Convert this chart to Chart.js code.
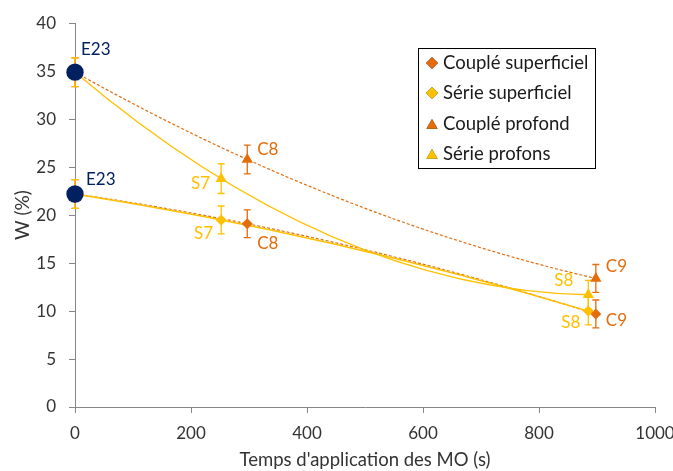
<!DOCTYPE html>
<html>
<head>
<meta charset="utf-8">
<script src="https://cdn.jsdelivr.net/npm/chart.js@4.4.1/dist/chart.umd.min.js"></script>
<style>
  html, body { margin: 0; padding: 0; background: #fff; }
  #wrap { width: 673px; height: 471px; position: relative; }
</style>
</head>
<body>
<div id="wrap"><canvas id="wChart"></canvas></div>
<script>
// Teneur en eau W (%) selon le temps d'application des MO (s)

const coupleSupTime = [0, 297, 898];
const coupleSupW = [22.2, 19.1, 9.7];
const coupleSupErr = [1.5, 1.45, 1.45];
const coupleSupNames = ["", "C8", "C9"];

const serieSupTime = [0, 252, 885];
const serieSupW = [22.2, 19.5, 10.0];
const serieSupErr = [1.5, 1.45, 1.45];
const serieSupNames = ["", "S7", "S8"];

const coupleProfTime = [0, 297, 898];
const coupleProfW = [34.9, 25.8, 13.4];
const coupleProfErr = [1.5, 1.5, 1.45];
const coupleProfNames = ["", "C8", "C9"];

const serieProfTime = [0, 252, 885];
const serieProfW = [34.9, 23.8, 11.7];
const serieProfErr = [1.5, 1.55, 1.5];
const serieProfNames = ["", "S7", "S8"];

// état initial E23
const initialTime = [0, 0];
const initialW = [34.9, 22.2];
const initialNames = ["E23", "E23"];

const seriesNames = ["Couplé superficiel", "Série superficiel", "Couplé profond", "Série profons"];
const xTicks = [0, 200, 400, 600, 800, 1000];
const yTicks = [0, 5, 10, 15, 20, 25, 30, 35, 40];

const ORANGE = "#E46C0A";
const YELLOW = "#FFC000";
const NAVY = "#002060";
const AXIS = "#868686";
const TEXT = "#333333";
const FONT = "Lato";

function points(xs, ys) {
  return xs.map((x, i) => ({ x: x, y: ys[i] }));
}

// label placement per dataset: [dx, dy, align]
const labelOffsets = [
  [null, [10, 20, "left"], [10, 7, "left"]],
  [null, [-8, 14, "right"], [-8, 11, "right"]],
  [null, [10, -10, "left"], [10, -12, "left"]],
  [null, [-11, 5, "right"], [-15, -14, "right"]],
  [[6, -23, "left"], [11, -14, "left"]]
];

const datasets = [
  { label: seriesNames[0], data: points(coupleSupTime, coupleSupW), err: coupleSupErr, names: coupleSupNames,
    color: ORANGE, pointStyle: "rectRot", pointRadius: 5.5, dashed: true, order: 4 },
  { label: seriesNames[1], data: points(serieSupTime, serieSupW), err: serieSupErr, names: serieSupNames,
    color: YELLOW, pointStyle: "rectRot", pointRadius: 5.5, dashed: false, order: 3 },
  { label: seriesNames[2], data: points(coupleProfTime, coupleProfW), err: coupleProfErr, names: coupleProfNames,
    color: ORANGE, pointStyle: "triangle", pointRadius: 6.5, dashed: true, order: 2 },
  { label: seriesNames[3], data: points(serieProfTime, serieProfW), err: serieProfErr, names: serieProfNames,
    color: YELLOW, pointStyle: "triangle", pointRadius: 6.5, dashed: false, order: 1 },
  { label: "E23", data: points(initialTime, initialW), names: initialNames,
    color: NAVY, pointStyle: "circle", pointRadius: 8.7, initial: true, order: 0 }
].map(d => Object.assign(d, {
  backgroundColor: d.color,
  borderColor: d.color,
  borderWidth: 0,
  pointHoverRadius: d.pointRadius,
  showLine: false,
  clip: false
}));

// polynomial trendline, order 2 (least squares)
function polyFit2(xs, ys) {
  let s = [0, 0, 0, 0, 0], t = [0, 0, 0];
  xs.forEach((x, i) => {
    for (let k = 0; k < 5; k++) s[k] += Math.pow(x, k);
    for (let k = 0; k < 3; k++) t[k] += ys[i] * Math.pow(x, k);
  });
  const m = [[s[0], s[1], s[2]], [s[1], s[2], s[3]], [s[2], s[3], s[4]]];
  const det = a => a[0][0] * (a[1][1] * a[2][2] - a[1][2] * a[2][1])
    - a[0][1] * (a[1][0] * a[2][2] - a[1][2] * a[2][0])
    + a[0][2] * (a[1][0] * a[2][1] - a[1][1] * a[2][0]);
  const d = det(m);
  return [0, 1, 2].map(c => det(m.map((row, r) => row.map((v, j) => (j === c ? t[r] : v)))) / d);
}

const overlayPlugin = {
  id: "overlay",
  beforeDatasetsDraw(chart) {
    const ctx = chart.ctx;
    const xs = chart.scales.x, ys = chart.scales.y;
    ctx.save();
    chart.data.datasets.forEach(ds => {
      if (ds.initial) return;
      // trendline
      const tx = ds.data.map(p => p.x), ty = ds.data.map(p => p.y);
      const c = polyFit2(tx, ty);
      const f = x => c[0] + c[1] * x + c[2] * x * x;
      const x0 = Math.min(...tx), x1 = Math.max(...tx), xm = (x0 + x1) / 2;
      const ym = f(x0) + (c[1] + 2 * c[2] * x0) * (xm - x0);
      ctx.beginPath();
      ctx.strokeStyle = ds.color;
      ctx.lineWidth = ds.dashed ? 1.2 : 1.3;
      ctx.setLineDash(ds.dashed ? [3, 2] : []);
      ctx.moveTo(xs.getPixelForValue(x0), ys.getPixelForValue(f(x0)));
      ctx.quadraticCurveTo(xs.getPixelForValue(xm), ys.getPixelForValue(ym),
        xs.getPixelForValue(x1), ys.getPixelForValue(f(x1)));
      ctx.stroke();
    });
    ctx.setLineDash([]);
    chart.data.datasets.forEach(ds => {
      if (!ds.err) return;
      // error bars
      ctx.strokeStyle = ds.color;
      ctx.lineWidth = 1.3;
      ds.data.forEach((p, i) => {
        const px = xs.getPixelForValue(p.x);
        const top = ys.getPixelForValue(p.y + ds.err[i]);
        const bot = ys.getPixelForValue(p.y - ds.err[i]);
        ctx.beginPath();
        ctx.moveTo(px, top); ctx.lineTo(px, bot);
        ctx.moveTo(px - 3.5, top); ctx.lineTo(px + 3.5, top);
        ctx.moveTo(px - 3.5, bot); ctx.lineTo(px + 3.5, bot);
        ctx.stroke();
      });
    });
    ctx.restore();
  },
  afterDatasetsDraw(chart) {
    const ctx = chart.ctx;
    const xs = chart.scales.x, ys = chart.scales.y;
    ctx.save();
    ctx.font = "17px " + FONT;
    ctx.textBaseline = "middle";
    chart.data.datasets.forEach((ds, di) => {
      ds.data.forEach((p, i) => {
        const off = labelOffsets[di][i];
        if (!off || !ds.names[i]) return;
        ctx.fillStyle = ds.color;
        ctx.textAlign = off[2];
        ctx.fillText(ds.names[i], xs.getPixelForValue(p.x) + off[0], ys.getPixelForValue(p.y) + off[1]);
      });
    });

    // legend box
    const bx = 418.5, by = 48.5, bw = 177, bh = 120;
    ctx.strokeStyle = "#000";
    ctx.lineWidth = 1;
    ctx.strokeRect(bx, by, bw, bh);
    const rows = [63, 93, 124, 154];
    ctx.textAlign = "left";
    ctx.font = "18.5px " + FONT;
    chart.data.datasets.slice(0, 4).forEach((ds, i) => {
      Chart.helpers.drawPoint(ctx, {
        pointStyle: ds.pointStyle,
        radius: ds.pointStyle === "triangle" ? 6.5 : 6,
        rotation: 0,
        borderWidth: 0
      }, 432, rows[i] + (ds.pointStyle === "triangle" ? 1.5 : 0));
      ctx.fillStyle = ds.color;
      ctx.fill();
      ctx.fillStyle = "#1a1a1a";
      ctx.fillText(ds.label, 443, rows[i]);
    });
    ctx.restore();
  }
};

new Chart(document.getElementById("wChart"), {
  type: "scatter",
  data: { datasets: datasets },
  plugins: [overlayPlugin],
  options: {
    responsive: true,
    maintainAspectRatio: false,
    animation: false,
    layout: { padding: { left: 0, right: 18, top: 21, bottom: 0 } },
    plugins: {
      legend: { display: false },
      tooltip: { enabled: false }
    },
    scales: {
      x: {
        type: "linear",
        min: 0,
        max: 1000,
        afterBuildTicks: s => { s.ticks = xTicks.map(v => ({ value: v })); },
        afterFit: s => { s.height = 64; s.paddingRight = 0; s.paddingLeft = 0; },
        grid: { drawOnChartArea: false, color: AXIS, tickLength: 6 },
        border: { color: AXIS, width: 1 },
        ticks: { color: TEXT, font: { family: FONT, size: 17 }, padding: 10, maxRotation: 0,
          callback: v => String(v) },
        title: { display: true, text: "Temps d'application des MO (s)", color: TEXT,
          font: { family: FONT, size: 18.5 }, padding: { top: 0, bottom: 0 } }
      },
      y: {
        type: "linear",
        min: 0,
        max: 40,
        afterBuildTicks: s => { s.ticks = yTicks.map(v => ({ value: v })); },
        afterFit: s => { s.width = 75; },
        grid: { drawOnChartArea: false, color: AXIS, tickLength: 6 },
        border: { color: AXIS, width: 1 },
        ticks: { color: TEXT, font: { family: FONT, size: 17 }, padding: 13,
          callback: v => String(v) },
        title: { display: true, text: "W (%)", color: TEXT,
          font: { family: FONT, size: 19 }, padding: { top: 11, bottom: 0 } }
      }
    }
  }
});
</script>
</body>
</html>
